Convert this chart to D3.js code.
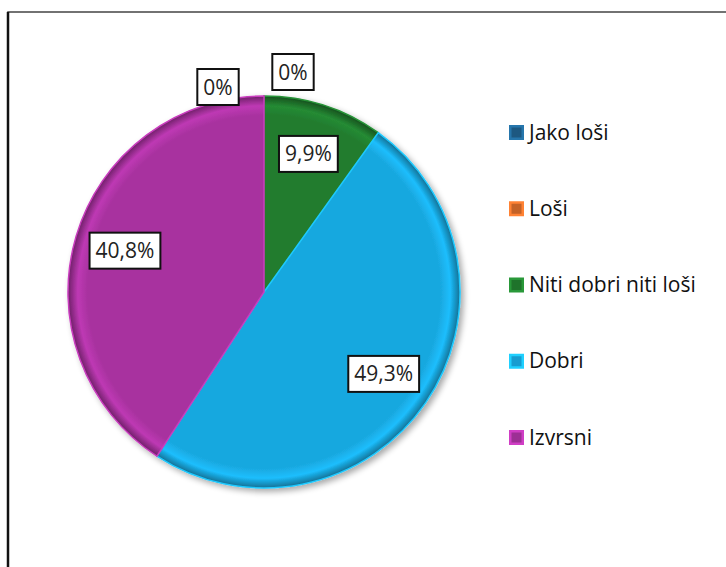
<!DOCTYPE html>
<html>
<head>
<meta charset="utf-8">
<script src="https://cdn.jsdelivr.net/npm/d3@7"></script>
<style>
  body { margin: 0; background: #fff; }
  #chart { width: 726px; height: 567px; }
  text { font-family: "Open Sans", "Liberation Sans", sans-serif; }
</style>
</head>
<body>
<div id="chart"></div>
<script>
const categories = ["Jako loši", "Loši", "Niti dobri niti loši", "Dobri", "Izvrsni"];
const values = [0, 0, 9.9, 49.3, 40.8];
const labels = ["0%", "0%", "9,9%", "49,3%", "40,8%"];
const colors = ["#1f5f8b", "#d2692a", "#217b2e", "#19a8df", "#a8329f"];

const width = 726, height = 567;
const svg = d3.select("#chart").append("svg").attr("width", width).attr("height", height);

// chart frame (runs off the right and bottom edges)
svg.append("rect").attr("x", 8).attr("y", 12).attr("width", 760).attr("height", 600)
	.attr("fill", "#fff").attr("stroke", "#444").attr("stroke-width", 1.5);
svg.append("line").attr("x1", 8).attr("x2", 8).attr("y1", 12).attr("y2", height)
	.attr("stroke", "#111").attr("stroke-width", 2.5);

const cx = 264, cy = 292, r = 196;

const defs = svg.append("defs");
colors.forEach((c, i) => {
	const g = defs.append("radialGradient").attr("id", "grad" + i)
		.attr("gradientUnits", "userSpaceOnUse").attr("cx", 0).attr("cy", 0).attr("r", r);
	g.append("stop").attr("offset", 0).attr("stop-color", c);
	g.append("stop").attr("offset", 0.9).attr("stop-color", c);
	g.append("stop").attr("offset", 0.95).attr("stop-color", d3.color(c).brighter(0.35));
	g.append("stop").attr("offset", 0.985).attr("stop-color", d3.color(c).darker(0.6));
	g.append("stop").attr("offset", 1).attr("stop-color", d3.color(c).darker(1.2));
});
const sh = defs.append("filter").attr("id", "shadow").attr("x", -0.2).attr("y", -0.2).attr("width", 1.4).attr("height", 1.4);
sh.append("feGaussianBlur").attr("in", "SourceAlpha").attr("stdDeviation", 3);
sh.append("feOffset").attr("dx", 3).attr("dy", 3).attr("result", "b");
sh.append("feComponentTransfer").append("feFuncA").attr("type", "linear").attr("slope", 0.35);
const m = sh.append("feMerge");
m.append("feMergeNode");
m.append("feMergeNode").attr("in", "SourceGraphic");

const pie = d3.pie().sort(null).value(d => d);
const arcs = pie(values);
const arc = d3.arc().innerRadius(0).outerRadius(r);

const g = svg.append("g").attr("transform", `translate(${cx},${cy})`);
g.append("g").attr("filter", "url(#shadow)")
	.selectAll("path").data(arcs).join("path")
	.attr("d", arc)
	.attr("fill", (d, i) => `url(#grad${i})`)
	.attr("stroke", (d, i) => d3.color(colors[i]).brighter(0.5))
	.attr("stroke-width", d => d.value > 0 ? 1.5 : 0);

// data labels
const inner = d3.arc().innerRadius(r * 0.74).outerRadius(r * 0.74);
const zeroShift = [-46, 29];
const zeroRise = [-205, -220];
let zi = 0;
const lab = g.selectAll("g.lab").data(arcs).join("g").attr("class", "lab")
	.attr("transform", (d, i) => {
		if (d.value === 0) {
			const k = zi++;
			return `translate(${zeroShift[k]},${zeroRise[k]})`;
		}
		const [x, y] = inner.centroid(d);
		return `translate(${x},${y})`;
	});
lab.append("text").text((d, i) => labels[i])
	.attr("text-anchor", "middle").attr("dy", "0.36em")
	.attr("font-size", 21).attr("fill", "#222");
lab.each(function () {
	const t = d3.select(this).select("text");
	const b = t.node().getBBox();
	d3.select(this).insert("rect", "text")
		.attr("x", b.x - 6).attr("y", -18).attr("width", b.width + 12).attr("height", 36)
		.attr("fill", "#fff").attr("stroke", "#111").attr("stroke-width", 2);
});

// legend
const legY = d3.scalePoint().domain(categories).range([132, 437]);
const leg = svg.append("g").selectAll("g").data(categories).join("g")
	.attr("transform", d => `translate(509,${legY(d)})`);
leg.append("rect").attr("x", 0).attr("y", -7).attr("width", 15).attr("height", 15)
	.attr("fill", (d, i) => d3.color(colors[i]).brighter(0.6));
leg.append("rect").attr("x", 2.5).attr("y", -4.5).attr("width", 10).attr("height", 10)
	.attr("fill", (d, i) => d3.color(colors[i]).darker(0.2));
leg.append("text").attr("x", 20).attr("dy", "0.36em").attr("font-size", 21)
	.attr("fill", "#111").text(d => d);
</script>
</body>
</html>
